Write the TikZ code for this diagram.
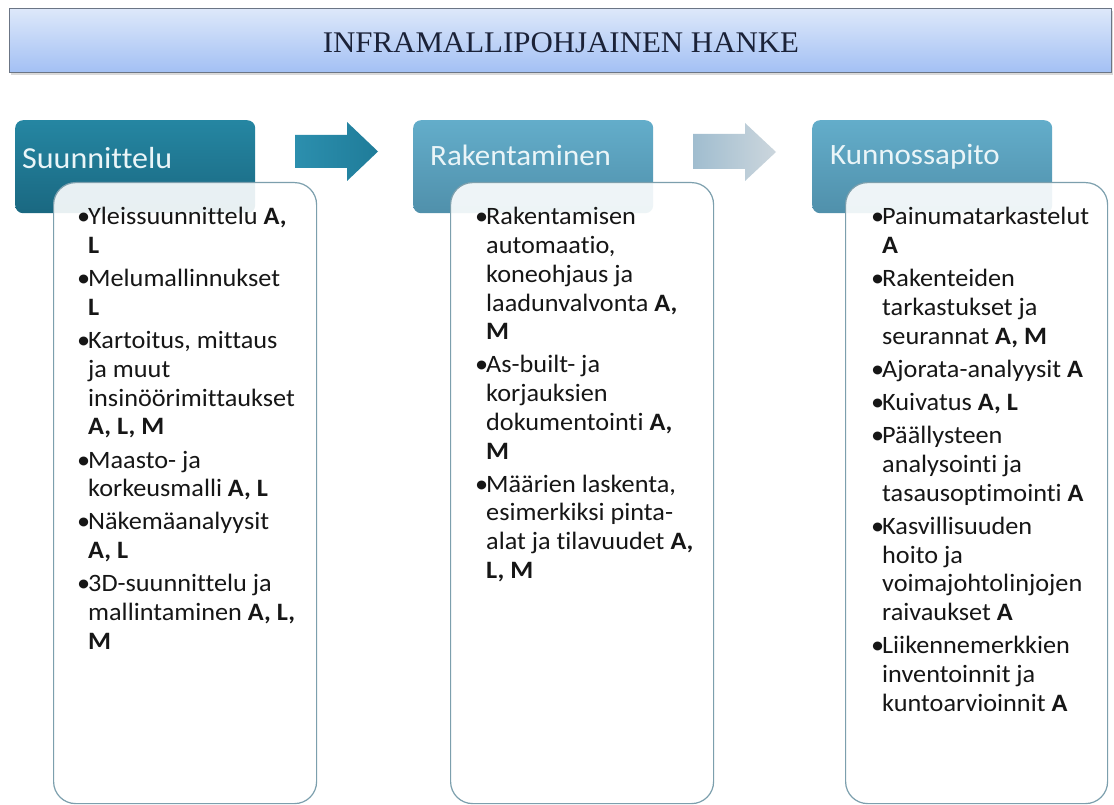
\documentclass[tikz,border=0pt]{standalone}
\usepackage{fontspec}
\setmainfont{Carlito}[FakeStretch=1.05, Ligatures={NoCommon}]
\newfontfamily\titlefont{Liberation Serif}[FakeStretch=1.03]
\definecolor{bannerTop}{HTML}{DDE8FA}
\definecolor{bannerBot}{HTML}{A3C0F4}
\definecolor{bannerLine}{HTML}{6B7585}
\definecolor{darkTop}{HTML}{2586A2}
\definecolor{darkBot}{HTML}{1A6881}
\definecolor{lightTop}{HTML}{63ADCA}
\definecolor{lightBot}{HTML}{5090AB}
\definecolor{arrowAL}{HTML}{2C8FAE}
\definecolor{arrowAR}{HTML}{1F7C99}
\definecolor{arrowBL}{HTML}{A0BDCF}
\definecolor{arrowBR}{HTML}{CCD6DD}
\definecolor{boxLine}{HTML}{7C9FAD}
\definecolor{txt}{HTML}{161616}
\definecolor{hdrTxt}{HTML}{EAF5F8}
\definecolor{titleTxt}{HTML}{1B2238}
\newcommand{\itm}[1]{\hangindent=11pt\hangafter=1\noindent\makebox[11pt][l]{•}#1\par\vskip4.5pt}
\newcommand{\itemlist}[1]{\vtop{\hsize=270pt\parindent=0pt\parskip=0pt\baselineskip=28.7pt\raggedright #1}}
\tikzset{
  bannerbox/.style={draw=bannerLine, line width=1pt, top color=bannerTop, bottom color=bannerBot, minimum width=1102pt, minimum height=64pt, inner sep=0pt, anchor=north west},
  hdrbox/.style={rounded corners=8pt, minimum width=240pt, minimum height=93pt, inner sep=0pt, anchor=north west},
  hdrdark/.style={hdrbox, top color=darkTop, bottom color=darkBot},
  hdrlight/.style={hdrbox, top color=lightTop, bottom color=lightBot},
  hdrtext/.style={anchor=base west, inner sep=0pt, text=hdrTxt, font=\fontsize{29.5}{32}\selectfont},
  contentbox/.style={draw=boxLine, line width=1.2pt, fill=white, fill opacity=0.9, rounded corners=22pt, minimum width=263pt, minimum height=621pt, inner sep=0pt, anchor=north west},
  bodytext/.style={anchor=base west, inner sep=0pt, text=txt, font=\fontsize{25}{28.7}\selectfont},
}
\begin{document}
\begin{tikzpicture}[x=1pt,y=-1pt]
\useasboundingbox[fill=white] (0,0) rectangle (1114,805);
% title banner
\fill[black!15] (11,11) rectangle (1113,75);
\node[bannerbox] (banner) at (9,8) {};
\node[anchor=center, inner sep=0pt, text=titleTxt, font=\titlefont\fontsize{30}{34}\selectfont] (title) at (561,43) {INFRAMALLIPOHJAINEN HANKE};
% headers
\node[hdrdark] (h1) at (15,120) {};
\node[hdrlight] (h2) at (413,120) {};
\node[hdrlight] (h3) at (812,120) {};
\node[hdrtext, font=\fontsize{30.5}{32}\selectfont] (h1t) at (22,169) {Suunnittelu};
\node[hdrtext] (h2t) at (430,166) {Rakentaminen};
\node[hdrtext] (h3t) at (830,165) {Kunnossapito};
% block arrows
\path[left color=arrowAL, right color=arrowAR] (295,135) -- (347,135) -- (347,122) -- (378,151.5) -- (347,181) -- (347,168) -- (295,168) -- cycle;
\path[left color=arrowBL, right color=arrowBR] (693,134) -- (745,134) -- (745,123) -- (776,152) -- (745,181) -- (745,169) -- (693,169) -- cycle;
% content boxes
\node[contentbox] (b1) at (53,182) {};
\node[contentbox] (b2) at (450,182) {};
\node[contentbox, minimum width=262pt] (b3) at (845,182) {};
% texts
\node[bodytext] (t1) at (77,225) {\itemlist{%
\itm{Yleissuunnittelu \textbf{A,}\newline\textbf{L}}
\itm{Melumallinnukset\newline\textbf{L}}
\itm{Kartoitus, mittaus\newline ja muut\newline insinöörimittaukset\newline\textbf{A, L, M}}
\itm{Maasto- ja\newline korkeusmalli \textbf{A, L}}
\itm{Näkemäanalyysit\newline\textbf{A, L}}
\itm{3D-suunnittelu ja\newline mallintaminen \textbf{A, L,}\newline\textbf{M}}
}};
\node[bodytext] (t2) at (475,225) {\itemlist{%
\itm{Rakentamisen\newline automaatio,\newline koneohjaus ja\newline laadunvalvonta \textbf{A,}\newline\textbf{M}}
\itm{As-built- ja\newline korjauksien\newline dokumentointi \textbf{A,}\newline\textbf{M}}
\itm{Määrien laskenta,\newline esimerkiksi pinta-\newline alat ja tilavuudet \textbf{A,}\newline\textbf{L, M}}
}};
\node[bodytext] (t3) at (871,225) {\itemlist{%
\itm{Painumatarkastelut\newline\textbf{A}}
\itm{Rakenteiden\newline tarkastukset ja\newline seurannat \textbf{A, M}}
\itm{Ajorata-analyysit \textbf{A}}
\itm{Kuivatus \textbf{A, L}}
\itm{Päällysteen\newline analysointi ja\newline tasausoptimointi \textbf{A}}
\itm{Kasvillisuuden\newline hoito ja\newline voimajohtolinjojen\newline raivaukset \textbf{A}}
\itm{Liikennemerkkien\newline inventoinnit ja\newline kuntoarvioinnit \textbf{A}}
}};
\end{tikzpicture}
\end{document}
